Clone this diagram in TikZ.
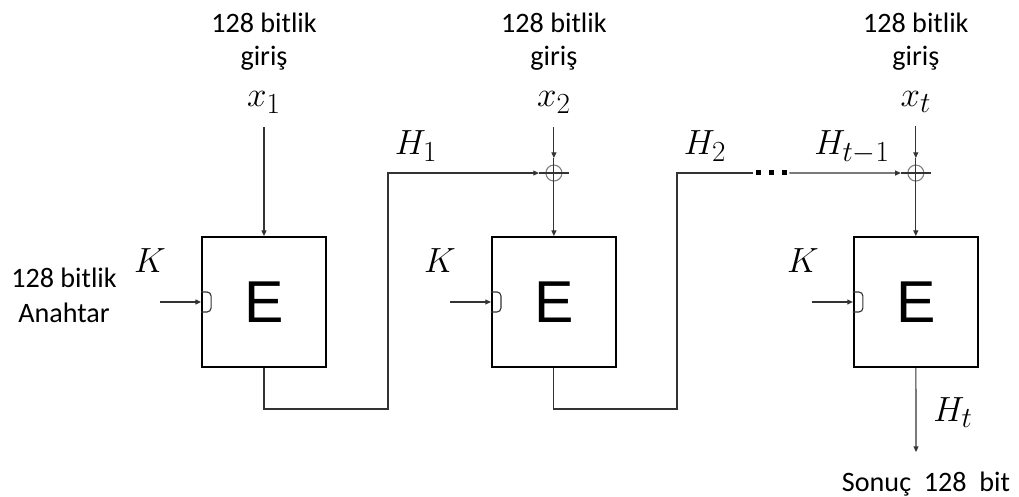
\documentclass[tikz,border=0pt]{standalone}
\usepackage{fontspec}
\setmainfont{Carlito}
\newfontfamily\efont{Liberation Sans}
\usetikzlibrary{arrows.meta,positioning}

\begin{document}
\begin{tikzpicture}[
  x=0.025cm, y=0.025cm,
  ebox/.style={draw, line width=1.3pt, minimum width=3.1cm, minimum height=3.25cm, inner sep=0pt, font=\efont\fontsize{42}{42}\selectfont},
  xor/.style={draw=gray, circle, minimum size=0.4cm, inner sep=0pt, outer sep=0.175cm, line width=0.8pt},
  arrow/.style={-{Triangle[length=4pt,width=3.5pt]}, line width=0.8pt, black!80},
  wire/.style={line width=0.8pt, black!80},
  txt/.style={font=\fontsize{20}{23.5}\selectfont, align=center, inner sep=0pt},
  var/.style={font=\fontsize{28.5}{34}\selectfont, inner sep=0pt},
  invar/.style={var, inner ysep=0.33cm}
]
  \useasboundingbox (0,0) rectangle (1019,497);

  % Cipher blocks
  \node[ebox] (e1) at (264,195) {E};
  \node[ebox, right=4.1cm of e1] (e2) {E};
  \node[ebox, right=5.9cm of e2] (e3) {E};

  % XOR points
  \node[xor, above=1.2cm of e2] (p2) {};
  \node[xor, above=1.2cm of e3] (p3) {};

  % Inputs
  \node[invar, anchor=base] (x1) at (e1 |- 0,390) {$x_1$};
  \node[invar, anchor=base] (x2) at (e2 |- 0,390) {$x_2$};
  \node[invar, anchor=base] (xt) at (e3 |- 0,390) {$x_t$};
  \node[txt, anchor=base] (in1) at (e1 |- 0,431) {128 bitlik\\giriş};
  \node[txt, anchor=base] (in2) at (e2 |- 0,431) {128 bitlik\\giriş};
  \node[txt, anchor=base] (in3) at (e3 |- 0,431) {128 bitlik\\giriş};

  \draw[arrow] (x1) -- (e1);
  \draw[arrow] (x2) -- (p2);
  \draw[arrow] (xt) -- (p3);
  \draw[arrow] (p2.north) -- (e2);
  \draw[arrow] (p3.north) -- (e3);
  \draw[wire] (p2.west) -- (p2.east);
  \draw[wire] (p3.west) -- (p3.east);

  % Chaining values
  \coordinate (bend1) at (388,88);
  \coordinate (bend2) at (677,88);
  \node[minimum width=0.9cm, inner sep=0pt] (dots) at (771,324) {};
  \foreach \dx in {-13,0,13}
    \fill ([xshift=\dx*0.025cm]dots.center) +(-2.5,-2.5) rectangle +(2.5,2.5);

  \draw[arrow] (e1.south) |- (bend1) |- (p2.west);
  \draw[wire] (e2.south) |- (bend2) |- (dots.west);
  \draw[arrow] (dots.east) -- (p3.west);

  \node[var, anchor=base] (h1) at (416,342) {$H_1$};
  \node[var, anchor=base] (h2) at (705,342) {$H_2$};
  \node[var, anchor=base] (htm) at (852,342) {$H_{t-1}$};

  % Key inputs
  \node[var, anchor=base] (k1) at (150,224) {$K$};
  \node[var, anchor=base] (k2) at (440,224) {$K$};
  \node[var, anchor=base] (k3) at (803,224) {$K$};
  \node[txt, anchor=base, font=\fontsize{20}{25.5}\selectfont] (key) at (64,174) {128 bitlik\\Anahtar};

  \coordinate (kin1) at (160,195);
  \coordinate (kin2) at (450,195);
  \coordinate (kin3) at (812,195);
  \draw[arrow] (kin1) -- (e1.west);
  \draw[arrow] (kin2) -- (e2.west);
  \draw[arrow] (kin3) -- (e3.west);
  \draw[wire, rounded corners=0.1cm] ([yshift=0.25cm]e1.west) -- ++(10,0) -- ++(0,-20) -- ++(-10,0);
  \draw[wire, rounded corners=0.1cm] ([yshift=0.25cm]e2.west) -- ++(10,0) -- ++(0,-20) -- ++(-10,0);
  \draw[wire, rounded corners=0.1cm] ([yshift=0.25cm]e3.west) -- ++(10,0) -- ++(0,-20) -- ++(-10,0);

  % Output
  \coordinate (out) at (916,45);
  \draw[arrow] (e3) -- (out);
  \node[var, anchor=base west] (ht) at (933,75) {$H_t$};
  \node[txt, anchor=base] (res) at (926,5) {Sonuç\ \ 128\ \ bit};
\end{tikzpicture}
\end{document}
